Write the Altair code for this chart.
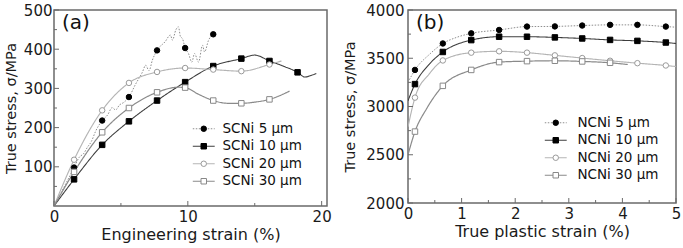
import altair as alt
import pandas as pd

FONT = "DejaVu Sans"
FRAME = "#6a6a6a"

# ---------------- Panel (a) data ----------------
A_NAMES = ["SCNi 5 μm", "SCNi 10 μm", "SCNi 20 μm", "SCNi 30 μm"]

a5_x = [0, 0.7, 1.5, 1.9, 2.2, 2.5, 2.8, 3.1, 3.6, 4.0, 4.35, 4.6, 4.9, 5.2, 5.6, 6.1, 6.6, 6.85, 7.1,
        7.35, 7.7, 8.3, 8.7, 8.85, 9.1, 9.3, 9.45, 9.6, 9.8, 10.05, 10.3, 10.5, 10.8, 11.1, 11.25, 11.55, 11.9]
a5_y = [0, 45, 98, 125, 133, 150, 165, 190, 218, 232, 251, 245, 258, 264, 278, 311, 341, 359, 345,
        372, 397, 419, 436, 423, 449, 457, 432, 427, 403, 389, 367, 389, 367, 410, 393, 423, 438]
a5_mx = [1.5, 3.6, 5.6, 7.7, 9.8, 11.9]
a5_my = [98, 218, 278, 397, 403, 438]

a10_x = [0, 1.5, 3.6, 5.6, 7.7, 9.8, 11.9, 14.0, 15.0, 16.1, 17.2, 18.2, 18.75, 19.2, 19.6]
a10_y = [0, 68, 156, 216, 269, 316, 357, 376, 385, 370, 356, 341, 329, 333, 338]
a10_mx = [1.5, 3.6, 5.6, 7.7, 9.8, 11.9, 14.0, 16.1, 18.2]
a10_my = [68, 156, 216, 269, 316, 357, 376, 370, 341]

a20_x = [0, 1.5, 3.6, 5.6, 7.7, 9.8, 11.9, 14.0, 16.1, 17.0]
a20_y = [0, 118, 244, 314, 342, 352, 348, 344, 361, 370]
a20_mx = [1.5, 3.6, 5.6, 7.7, 9.8, 11.9, 14.0, 16.1]
a20_my = [118, 244, 314, 342, 352, 348, 344, 361]

a30_x = [0, 1.5, 3.6, 5.6, 7.7, 9.3, 9.8, 10.8, 11.9, 13.0, 14.0, 15.0, 16.1, 17.6]
a30_y = [0, 87, 188, 250, 290, 303, 302, 285, 269, 262, 262, 265, 272, 293]
a30_mx = [1.5, 3.6, 5.6, 7.7, 9.8, 11.9, 14.0, 16.1]
a30_my = [87, 188, 250, 290, 302, 269, 262, 272]

A_XTICKS = [0, 10, 20]
A_XMINOR = [5, 15]
A_YTICKS = [100, 200, 300, 400, 500]
A_YMINOR = [50, 150, 250, 350, 450]

# ---------------- Panel (b) data ----------------
B_NAMES = ["NCNi 5 μm", "NCNi 10 μm", "NCNi 20 μm", "NCNi 30 μm"]
B_MX = [0.13, 0.65, 1.18, 1.7, 2.22, 2.74, 3.25, 3.77, 4.28, 4.81]

b5_x = [0, 0.13, 0.4, 0.65, 0.9, 1.18, 1.7, 2.22, 2.74, 3.25, 3.77, 4.28, 4.81, 5.0]
b5_y = [3250, 3379, 3540, 3653, 3715, 3758, 3793, 3828, 3830, 3839, 3846, 3846, 3828, 3822]
b5_my = [3379, 3653, 3758, 3793, 3828, 3830, 3839, 3846, 3846, 3828]

b10_x = [0, 0.13, 0.4, 0.65, 1.18, 1.7, 2.22, 2.74, 3.25, 3.77, 4.28, 4.81, 5.0]
b10_y = [3060, 3232, 3440, 3565, 3688, 3723, 3723, 3716, 3705, 3690, 3680, 3663, 3653]
b10_my = [3232, 3565, 3688, 3723, 3723, 3716, 3705, 3690, 3680, 3663]

b20_x = [0, 0.13, 0.4, 0.65, 1.18, 1.7, 2.22, 2.74, 3.25, 3.77, 4.28, 4.81, 5.0]
b20_y = [2790, 3092, 3340, 3477, 3558, 3572, 3558, 3530, 3502, 3474, 3449, 3425, 3414]
b20_my = [3092, 3477, 3558, 3572, 3558, 3530, 3502, 3474, 3449, 3425]

b30_x = [0, 0.13, 0.35, 0.65, 1.18, 1.7, 2.22, 2.74, 3.25, 3.77, 4.1]
b30_y = [2500, 2740, 2980, 3214, 3379, 3460, 3470, 3474, 3467, 3453, 3435]
b30_my = [2740, 3214, 3379, 3460, 3470, 3474, 3467, 3453]

B_XTICKS = [0, 1, 2, 3, 4, 5]
B_XMINOR = [0.5, 1.5, 2.5, 3.5, 4.5]
B_YTICKS = [2000, 2500, 3000, 3500, 4000]
B_YMINOR = [2250, 2750, 3250, 3750]

# ---------------- styles ----------------
LINE_COLORS = ["#8e8e8e", "#3c3c3c", "#b4b4b4", "#8a8a8a"]
LINE_DASHES = [[1.5, 1.5], [1, 0], [1, 0], [1, 0]]
LINE_WIDTHS = [1.0, 1.2, 1.0, 1.2]
MK_SHAPES = ["circle", "square", "circle", "square"]
MK_FILLS = ["#000000", "#000000", "#ffffff", "#ffffff"]
MK_STROKES = ["#000000", "#000000", "#9a9a9a", "#888888"]


def make_lines(names, curves):
    rows = []
    for n, (xs, ys) in zip(names, curves):
        for i, (x, y) in enumerate(zip(xs, ys)):
            rows.append({"x": x, "y": y, "sl": n + " ", "i": i})
    return pd.DataFrame(rows)


def make_marks(names, marks):
    rows = []
    for n, (xs, ys) in zip(names, marks):
        for x, y in zip(xs, ys):
            rows.append({"x": x, "y": y, "s": n})
    return pd.DataFrame(rows)


def panel(names, curves, marks, xdom, ydom, xt, xm, yt, ym, xtitle, tag, W, H,
          lx, ly, loff, lpad_y, tpad_y):
    lnames = [n + " " for n in names]
    xs = alt.Scale(domain=xdom, nice=False, zero=False)
    ys = alt.Scale(domain=ydom, nice=False, zero=False)
    xa = alt.Axis(values=xt, title=xtitle, labelFlush=False, labelOverlap=False,
                  ticks=False, domain=False, grid=False, labelPadding=3, titlePadding=2)
    ya = alt.Axis(values=yt, title="True stress, σ/MPa", ticks=False, domain=False, format="d",
                  grid=False, labelPadding=lpad_y, titlePadding=tpad_y, labelOverlap=False)
    X = alt.X("x:Q", scale=xs, axis=xa)
    Y = alt.Y("y:Q", scale=ys, axis=ya)

    leg_line = alt.Legend(orient="none", legendX=lx, legendY=ly, title=None,
                          symbolSize=30, symbolStrokeWidth=1, labelOpacity=0,
                          labelFontSize=13.5, labelFont=FONT, rowPadding=2.5, padding=0,
                          offset=0, symbolType="M-4,0H4", labelOffset=loff)
    leg_pt = alt.Legend(orient="none", legendX=lx, legendY=ly, title=None,
                        symbolSize=30, symbolStrokeWidth=1, labelFontSize=13.5,
                        labelFont=FONT, labelColor="#111", rowPadding=2.5, padding=0,
                        offset=0, labelOffset=loff)

    lines = alt.Chart(make_lines(names, curves)).mark_line(
        interpolate="monotone", clip=True).encode(
        x=X, y=Y,
        stroke=alt.Stroke("sl:N", scale=alt.Scale(domain=lnames, range=LINE_COLORS), legend=leg_line),
        strokeDash=alt.StrokeDash("sl:N", scale=alt.Scale(domain=lnames, range=LINE_DASHES), legend=leg_line),
        strokeWidth=alt.StrokeWidth("sl:N", scale=alt.Scale(domain=lnames, range=LINE_WIDTHS), legend=None),
        order="i:Q",
    )
    pts = alt.Chart(make_marks(names, marks)).mark_point(
        size=30, opacity=1, strokeWidth=1, filled=False, fillOpacity=1).encode(
        x=X, y=Y,
        shape=alt.Shape("s:N", scale=alt.Scale(domain=names, range=MK_SHAPES), legend=leg_pt),
        fill=alt.Fill("s:N", scale=alt.Scale(domain=names, range=MK_FILLS), legend=leg_pt),
        color=alt.Color("s:N", scale=alt.Scale(domain=names, range=MK_STROKES), legend=leg_pt),
    )
    ticks = []
    for vals, ln in ((xt, 5), (xm, 3)):
        ticks.append(alt.Chart(pd.DataFrame({"x": vals})).mark_tick(
            size=ln, thickness=1, color=FRAME, opacity=1).encode(x=X, y=alt.value(H - ln / 2)))
    for vals, ln in ((yt, 5), (ym, 3)):
        ticks.append(alt.Chart(pd.DataFrame({"y": vals})).mark_tick(
            size=ln, thickness=1, color=FRAME, opacity=1).encode(y=Y, x=alt.value(ln / 2)))
    label = alt.Chart(pd.DataFrame({"t": [tag]})).mark_text(
        align="left", baseline="middle", font=FONT, fontSize=20, color="#111").encode(
        x=alt.value(8), y=alt.value(13), text="t:N")
    return alt.layer(lines, pts, *ticks, label).properties(width=W, height=H)


pa = panel(A_NAMES,
           [(a5_x, a5_y), (a10_x, a10_y), (a20_x, a20_y), (a30_x, a30_y)],
           [(a5_mx, a5_my), (a10_mx, a10_my), (a20_mx, a20_my), (a30_mx, a30_my)],
           [0, 20.4], [0, 500], A_XTICKS, A_XMINOR, A_YTICKS, A_YMINOR,
           "Engineering strain (%)", "(a)", 273, 196, 143, 112, 12, 2, 5)

pb = panel(B_NAMES,
           [(b5_x, b5_y), (b10_x, b10_y), (b20_x, b20_y), (b30_x, b30_y)],
           [(B_MX, b5_my), (B_MX, b10_my), (B_MX, b20_my), (B_MX[:8], b30_my)],
           [0, 5], [2000, 4000], B_XTICKS, B_XMINOR, B_YTICKS, B_YMINOR,
           "True plastic strain (%)", "(b)", 268, 193, 141, 106, 15, 4, 8)

chart = alt.hconcat(pa, pb, spacing=10).resolve_scale(
    x="independent", y="independent", color="independent", fill="independent",
    shape="independent", stroke="independent", strokeDash="independent",
    strokeWidth="independent",
).resolve_legend(
    color="independent", fill="independent", shape="independent",
    stroke="independent", strokeDash="independent",
).properties(
    padding={"left": 2, "top": 2, "right": 0, "bottom": 0},
    background="white",
).configure_view(stroke=FRAME, strokeWidth=1.5).configure_axis(
    labelFont=FONT, labelFontSize=15, labelColor="#1a1a1a", labelFontWeight="normal",
    titleFont=FONT, titleFontSize=16, titleColor="#1a1a1a", titleFontWeight="normal"
).configure_axisY(titleFontSize=14.5)

chart.save("out.html", embed_options={"renderer": "svg", "actions": False})
